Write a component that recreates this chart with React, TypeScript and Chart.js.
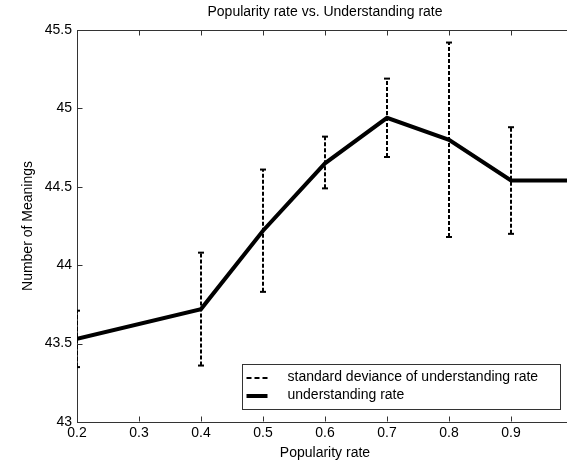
import React, { useEffect, useRef } from 'react';
import { Chart, registerables } from 'chart.js';

Chart.register(...registerables);

// ---- data ----
const popularity = [0.2, 0.4, 0.5, 0.6, 0.7, 0.8, 0.9, 1.0];
const understanding = [43.53, 43.72, 44.22, 44.65, 44.94, 44.8, 44.54, 44.54];
const errLow = [43.35, 43.36, 43.83, 44.49, 44.69, 44.18, 44.2];
const errHigh = [43.71, 44.08, 44.61, 44.82, 45.19, 45.42, 44.88];

const chartTitle = 'Popularity rate vs. Understanding rate';
const xTitle = 'Popularity rate';
const yTitle = 'Number of Meanings';
const legendLabels = ['standard deviance of understanding rate', 'understanding rate'];
const xVisibleMax = 0.95; // labels beyond this fall outside the cropped picture

const FONT = "'Liberation Sans', Arial, Helvetica, sans-serif";
const AXIS = '#333';

const framePlugin = {
  id: 'frame',
  afterDraw(chart: any) {
    const { ctx, chartArea: a, scales } = chart;
    const x = scales.x;
    const y = scales.y;
    const L = 5;
    ctx.save();
    ctx.strokeStyle = AXIS;
    ctx.lineWidth = 1;
    ctx.beginPath();
    const top = Math.round(a.top) + 0.5;
    const bottom = Math.round(a.bottom) - 0.5;
    const left = Math.round(a.left) + 0.5;
    const right = Math.round(a.right) - 0.5;
    ctx.moveTo(left, top);
    ctx.lineTo(right, top);
    ctx.lineTo(right, bottom);
    x.ticks.forEach((t: any) => {
      const px = Math.round(x.getPixelForValue(t.value)) + 0.5;
      ctx.moveTo(px, bottom);
      ctx.lineTo(px, bottom - L);
      ctx.moveTo(px, top);
      ctx.lineTo(px, top + L);
    });
    y.ticks.forEach((t: any) => {
      const py = Math.round(y.getPixelForValue(t.value)) + 0.5;
      ctx.moveTo(left, py);
      ctx.lineTo(left + L, py);
      ctx.moveTo(right, py);
      ctx.lineTo(right - L, py);
    });
    ctx.stroke();
    ctx.restore();
  },
};

const legendPlugin = {
  id: 'boxLegend',
  afterDraw(chart: any) {
    const { ctx, chartArea: a } = chart;
    const w = 318;
    const h = 45;
    const bx = Math.round(a.right - 13 - w) + 0.5;
    const by = Math.round(a.bottom - 13 - h) + 0.5;
    ctx.save();
    ctx.fillStyle = '#fff';
    ctx.fillRect(bx, by, w, h);
    ctx.strokeStyle = AXIS;
    ctx.lineWidth = 1;
    ctx.strokeRect(bx, by, w, h);

    const sx0 = bx + 4;
    const sx1 = bx + 25;
    const tx = bx + 45;
    const r1 = by + 13;
    const r2 = by + 31;

    ctx.strokeStyle = '#000';
    ctx.lineWidth = 2;
    ctx.setLineDash([5, 3]);
    ctx.beginPath();
    ctx.moveTo(sx0, Math.round(r1));
    ctx.lineTo(sx1, Math.round(r1));
    ctx.stroke();

    ctx.setLineDash([]);
    ctx.lineWidth = 4;
    ctx.beginPath();
    ctx.moveTo(sx0, Math.round(r2));
    ctx.lineTo(sx1, Math.round(r2));
    ctx.stroke();

    ctx.fillStyle = '#000';
    ctx.font = `14px ${FONT}`;
    ctx.textBaseline = 'middle';
    ctx.textAlign = 'left';
    ctx.fillText(legendLabels[0], tx, r1);
    ctx.fillText(legendLabels[1], tx, r2);
    ctx.restore();
  },
};

export default function App() {
  const ref = useRef<HTMLCanvasElement | null>(null);

  useEffect(() => {
    if (!ref.current) return;
    Chart.defaults.font.family = FONT;
    Chart.defaults.font.size = 14;
    Chart.defaults.color = '#000';

    const errorSets = errLow.map((lo, i) => ({
      label: legendLabels[0],
      data: [
        { x: popularity[i], y: lo },
        { x: popularity[i], y: errHigh[i] },
      ],
      borderColor: '#000',
      borderWidth: 2,
      borderDash: [4, 2],
      pointStyle: 'line',
      pointRadius: 3,
      pointHoverRadius: 3,
      pointBorderWidth: 2,
      pointBorderColor: '#000',
      pointBackgroundColor: '#000',
      fill: false,
      clip: 0,
    }));

    const mainSet = {
      label: legendLabels[1],
      data: popularity.map((x, i) => ({ x, y: understanding[i] })),
      borderColor: '#000',
      borderWidth: 4,
      pointRadius: 0,
      pointHoverRadius: 0,
      fill: false,
      tension: 0,
      clip: 0,
    };

    const chart = new Chart(ref.current, {
      type: 'line',
      data: { datasets: [...errorSets, mainSet] as any },
      options: {
        animation: false,
        responsive: false,
        devicePixelRatio: 1,
        events: [],
        layout: { padding: { left: 0, right: 27, top: 0, bottom: 0 } },
        plugins: {
          legend: { display: false },
          tooltip: { enabled: false },
          title: {
            display: true,
            text: chartTitle,
            fullSize: false,
            color: '#000',
            font: { size: 14, weight: 'normal' as any },
            padding: { top: 4, bottom: 9.2 },
          },
        },
        scales: {
          x: {
            type: 'linear',
            min: 0.2,
            max: 1.0,
            ticks: {
              stepSize: 0.1,
              padding: 3,
              color: '#000',
              maxRotation: 0,
              autoSkip: false,
              font: { size: 14 },
              callback: (v: any) => (Number(v) > xVisibleMax ? '' : String(Math.round(Number(v) * 10) / 10)),
            },
            grid: { display: false, drawTicks: false },
            border: { display: true, color: AXIS, width: 1 },
            title: { display: true, text: xTitle, color: '#000', font: { size: 14 }, padding: { top: 0, bottom: 0 } },
            afterFit: (s: any) => {
              s.height = 40;
            },
          },
          y: {
            type: 'linear',
            min: 43,
            max: 45.5,
            ticks: {
              stepSize: 0.5,
              padding: 5,
              color: '#000',
              font: { size: 14 },
              callback: (v: any) => String(Math.round(Number(v) * 10) / 10),
            },
            grid: { display: false, drawTicks: false },
            border: { display: true, color: AXIS, width: 1 },
            title: { display: true, text: yTitle, color: '#000', font: { size: 14 }, padding: { top: 20, bottom: 0 } },
            afterFit: (s: any) => {
              s.width = 77;
            },
          },
        },
      },
      plugins: [framePlugin, legendPlugin],
    });
    return () => chart.destroy();
  }, []);

  return (
    <div
      style={{
        position: 'absolute',
        left: 0,
        top: 0,
        width: 567,
        height: 462,
        overflow: 'hidden',
        background: '#fff',
      }}
    >
      <canvas ref={ref} width={600} height={462} style={{ display: 'block', width: 600, height: 462 }} />
    </div>
  );
}
